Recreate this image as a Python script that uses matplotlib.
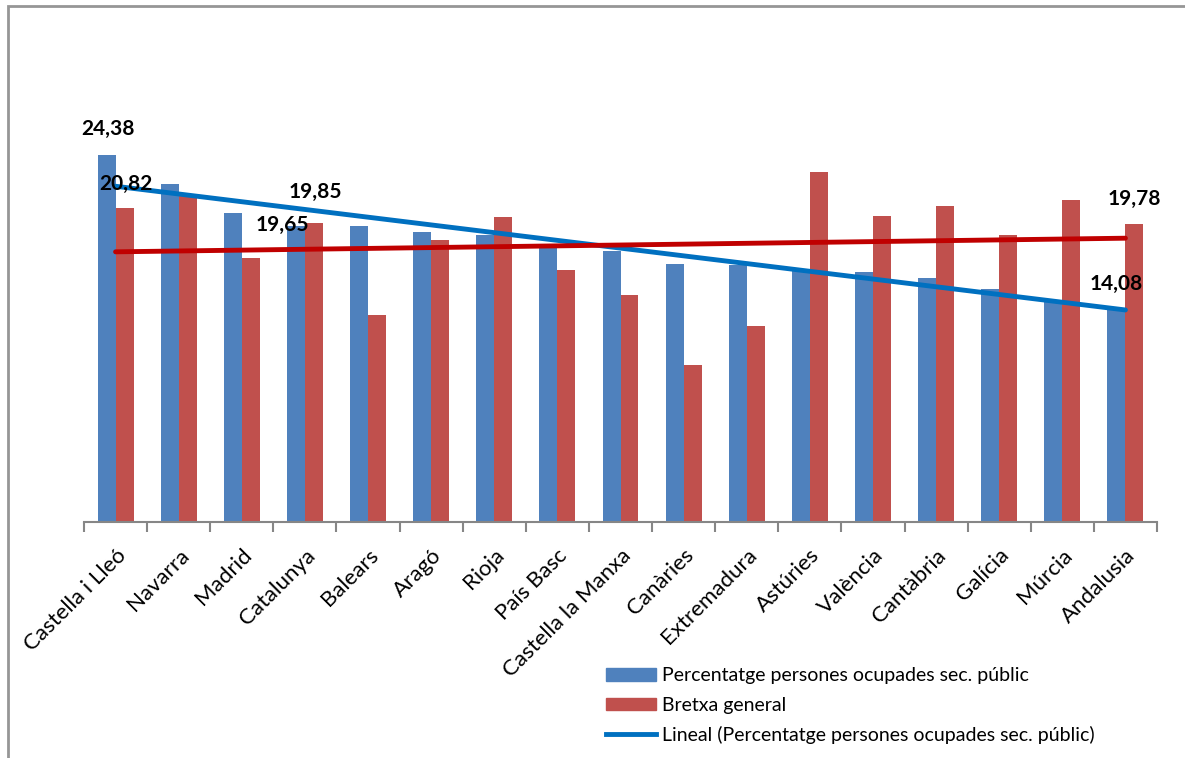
import numpy as np
import matplotlib.pyplot as plt
from matplotlib.patches import Rectangle
from matplotlib.lines import Line2D

plt.rcParams['font.family'] = ['Lato', 'DejaVu Sans']

regions = ['Castella i Lleó', 'Navarra', 'Madrid', 'Catalunya', 'Balears', 'Aragó',
           'Rioja', 'País Basc', 'Castella la Manxa', 'Canàries', 'Extremadura',
           'Astúries', 'València', 'Cantàbria', 'Galícia', 'Múrcia', 'Andalusia']
public_pct = [24.38, 22.44, 20.47, 19.65, 19.61, 19.25, 19.03, 18.30, 17.98,
              17.10, 17.01, 16.65, 16.61, 16.15, 15.48, 14.62, 14.08]
gap = [20.82, 21.67, 17.52, 19.85, 13.75, 18.68, 20.23, 16.70, 15.07,
       10.38, 13.02, 23.22, 20.27, 20.96, 19.01, 21.38, 19.78]

blue = '#4F81BD'
red = '#C0504D'
trend_blue = '#0070C0'
trend_red = '#C00000'

fig = plt.figure(figsize=(11.85, 7.58), dpi=100)
# chart border
fig.patches.append(Rectangle((8 / 1185, -0.01), 1.2, 1 - 6 / 758 + 0.01, transform=fig.transFigure,
                             fill=False, edgecolor='#969696', linewidth=2))

ax = fig.add_axes([84 / 1185, 1 - 521.5 / 758, (1157 - 84) / 1185, (521.5 - 70) / 758])

x = np.arange(len(regions))
w = 0.285
ax.bar(x - w / 2, public_pct, w, color=blue, label='Percentatge persones ocupades sec. públic')
ax.bar(x + w / 2, gap, w, color=red, label='Bretxa general')

# linear trend lines
pb = np.polyfit(x, public_pct, 1)
pr = np.polyfit(x, gap, 1)
ax.plot(x[[0, -1]], np.polyval(pb, x[[0, -1]]), color=trend_blue, lw=3.5, solid_capstyle='round')
ax.plot(x[[0, -1]], np.polyval(pr, x[[0, -1]]), color=trend_red, lw=3.5, solid_capstyle='round')

# data labels
lab = dict(fontsize=15, fontweight='bold', ha='center', va='center', textcoords='offset pixels')
def fmt(v):
    return f'{v:.2f}'.replace('.', ',')
ax.annotate(fmt(public_pct[0]), (x[0] - w / 2, public_pct[0]), xytext=(1, 26), **lab)
ax.annotate(fmt(gap[0]), (x[0] + w / 2, gap[0]), xytext=(1, 24), **lab)
ax.annotate(fmt(public_pct[3]), (x[3] - w / 2, public_pct[3]), xytext=(-14, 1), **lab)
ax.annotate(fmt(gap[3]), (x[3] + w / 2, gap[3]), xytext=(1, 31), **lab)
ax.annotate(fmt(public_pct[-1]), (x[-1] - w / 2, public_pct[-1]), xytext=(0, 26), **lab)
ax.annotate(fmt(gap[-1]), (x[-1] + w / 2, gap[-1]), xytext=(0, 25), **lab)

ax.set_xlim(-0.5, len(regions) - 0.5)
ax.set_ylim(0, 30)
for s in ['top', 'right', 'left']:
    ax.spines[s].set_visible(False)
ax.spines['bottom'].set_color('#868686')
ax.spines['bottom'].set_linewidth(1.5)
ax.set_yticks([])
ax.set_xticks(np.arange(len(regions) + 1) - 0.5, minor=True)
ax.set_xticks(x)
ax.set_xticklabels(regions, rotation=45, ha='right', rotation_mode='anchor', fontsize=16)
ax.tick_params(axis='x', which='major', length=0, pad=17)
ax.tick_params(axis='x', which='minor', length=7, width=1.5, color='#868686')

handles = [Rectangle((0, 0), 1, 1, color=blue), Rectangle((0, 0), 1, 1, color=red),
           Line2D([0], [0], color=trend_blue, lw=3.5)]
labels = ['Percentatge persones ocupades sec. públic', 'Bretxa general',
          'Lineal (Percentatge persones ocupades sec. públic)']
fig.legend(handles, labels, loc='upper left', bbox_to_anchor=(588 / 1185, 1 - 650 / 758),
           frameon=False, fontsize=14, handlelength=2.6, handleheight=0.6,
           handletextpad=0.3, labelspacing=0.62)

fig.savefig('out.png', dpi=100)
